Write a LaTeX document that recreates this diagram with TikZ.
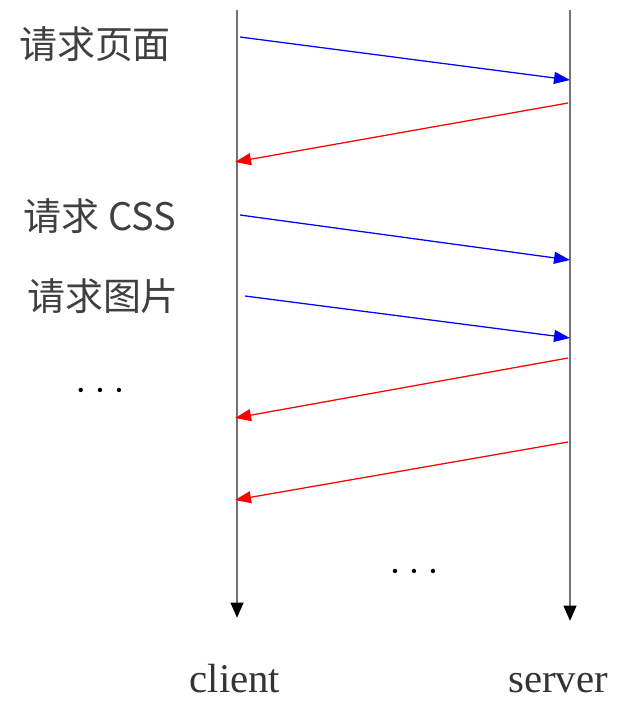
\documentclass[tikz,border=0pt]{standalone}
\usepackage{fontspec}
\setmainfont{Liberation Serif}
\newfontfamily\cjk{Noto Sans CJK SC}
\usetikzlibrary{arrows.meta,positioning}

\newcommand{\threedots}{\textbullet\hspace{9pt}\textbullet\hspace{9pt}\textbullet}

\begin{document}
\begin{tikzpicture}[x=0.025cm, y=-0.025cm]
		\tikzstyle{Life}	= [draw=gray!90!black, line width=1.3pt, -{Triangle[length=0.38cm,width=0.32cm,fill=black,color=black]}, shorten >=-2pt]
		\tikzstyle{Req}		= [draw=blue, line width=0.9pt, -{Triangle[length=0.4cm,width=0.3cm]}]
		\tikzstyle{Resp}	= [draw=red, line width=0.9pt, -{Triangle[length=0.4cm,width=0.3cm]}]
		\tikzstyle{Label}	= [font=\cjk\fontsize{27}{30}\selectfont, text=black!75, inner sep=0pt]
		\tikzstyle{Role}	= [font=\fontsize{29}{31}\selectfont, text=black!80, inner sep=0pt, anchor=base]
		\tikzstyle{Dots}	= [font=\fontsize{13}{15}\selectfont, inner sep=0pt]

		\useasboundingbox (0,0) rectangle (622,702);

		% time lines
		\coordinate (c0) at (237, 10);
		\coordinate (c1) at (237, 615);
		\coordinate (s0) at (570, 10);
		\coordinate (s1) at (570, 618);
		\draw [Life] (c0) to (c1);
		\draw [Life] (s0) to (s1);

		% message ends
		\coordinate (a1) at (240, 37);  \coordinate (b1) at (570, 80);
		\coordinate (a2) at (568, 103); \coordinate (b2) at (235, 162);
		\coordinate (a3) at (240, 215); \coordinate (b3) at (570, 260);
		\coordinate (a4) at (245, 296); \coordinate (b4) at (570, 338);
		\coordinate (a5) at (568, 358); \coordinate (b5) at (235, 418);
		\coordinate (a6) at (568, 442); \coordinate (b6) at (235, 500);

		\draw (a1) to (b1) [Req];
		\draw (a2) to (b2) [Resp];
		\draw (a3) to (b3) [Req];
		\draw (a4) to (b4) [Req];
		\draw (a5) to (b5) [Resp];
		\draw (a6) to (b6) [Resp];

		% texts
		\node (page)   at (95, 44)  [Label] {请求页面};
		\node (css)    at (100, 216) [Label] {请求 CSS};
		\node (img)    at (103, 296) [Label] {请求图片};
		\node (more1)  at (100, 392) [Dots] {\threedots};
		\node (more2)  at (414, 573) [Dots] {\threedots};
		\node (client) at (235, 692) [Role] {client};
		\node (server) at (558, 692) [Role] {server};
	\end{tikzpicture}
\end{document}
